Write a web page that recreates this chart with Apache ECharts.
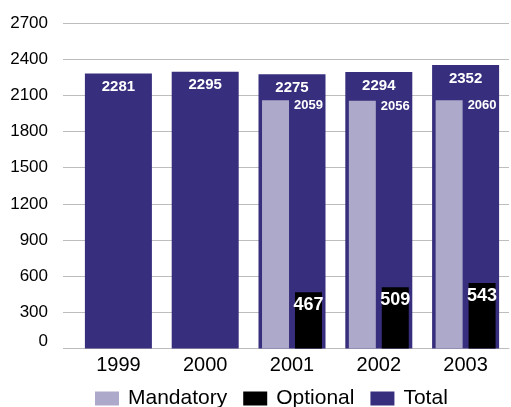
<!DOCTYPE html>
<html>
<head>
<meta charset="utf-8">
<script src="https://cdn.jsdelivr.net/npm/echarts@6/dist/echarts.min.js"></script>
<style>
  html, body { margin: 0; padding: 0; background: #fff; }
  #chart { width: 511px; height: 407px; }
</style>
</head>
<body>
<div id="chart"></div>
<script>
// Years on the horizontal axis
const categories = ['1999', '2000', '2001', '2002', '2003'];
// Series values (null where a series has no data for that year)
const totalValues = [2281, 2295, 2275, 2294, 2352];
const mandatoryValues = [null, null, 2059, 2056, 2060];
const optionalValues = [null, null, 467, 509, 543];
// Value axis range
const yMin = 0;
const yMax = 2700;
const yStep = 300;

const FONT = 'Liberation Sans, Arial, Helvetica, sans-serif';
const GRID_GRAY = '#bdbdbd';

const chart = echarts.init(document.getElementById('chart'), null, { renderer: 'canvas' });

chart.setOption({
  animation: false,
  backgroundColor: '#ffffff',
  textStyle: { fontFamily: FONT },
  grid: { left: 75, right: 2, top: 23, bottom: 58.5, containLabel: false },
  legend: {
    top: 383,
    left: 90,
    itemWidth: 24,
    itemHeight: 14,
    itemGap: 16,
    icon: 'rect',
    data: ['Mandatory', 'Optional', 'Total'],
    textStyle: { fontFamily: FONT, fontSize: 21, color: '#000', padding: [0, 0, 0, 4] }
  },
  xAxis: [
    {
      type: 'category',
      data: categories,
      axisLine: { show: true, lineStyle: { color: GRID_GRAY, width: 1 } },
      axisTick: { show: false },
      axisLabel: { fontFamily: FONT, fontSize: 20, color: '#000', margin: 7 }
    },
    {
      type: 'category',
      data: categories,
      show: false
    }
  ],
  yAxis: {
    type: 'value',
    min: yMin,
    max: yMax,
    interval: yStep,
    axisLine: { show: false },
    axisTick: { show: true, length: 12, lineStyle: { color: GRID_GRAY } },
    splitLine: { show: true, lineStyle: { color: GRID_GRAY, width: 1 } },
    axisLabel: {
      fontFamily: FONT,
      fontSize: 17,
      color: '#000',
      margin: 27,
      formatter: function (v) { return v === 0 ? '{zero|0}' : String(v); },
      rich: { zero: { fontFamily: FONT, fontSize: 17, color: '#000', padding: [0, 0, 14, 0] } }
    }
  },
  series: [
    {
      name: 'Total',
      type: 'bar',
      xAxisIndex: 0,
      barWidth: 67,
      data: totalValues,
      itemStyle: { color: '#372f7d' },
      label: {
        show: true,
        position: 'insideTop',
        distance: 6,
        color: '#fff',
        fontFamily: FONT,
        fontWeight: 'bold',
        fontSize: 15
      },
      z: 2
    },
    {
      name: 'Mandatory',
      type: 'bar',
      xAxisIndex: 1,
      barWidth: 27,
      barGap: '22%',
      data: mandatoryValues,
      itemStyle: { color: '#ada9ca' },
      label: {
        show: true,
        position: ['100%', 0],
        offset: [5, -1],
        align: 'left',
        verticalAlign: 'top',
        color: '#fff',
        fontFamily: FONT,
        fontWeight: 'bold',
        fontSize: 13
      },
      z: 3
    },
    {
      name: 'Optional',
      type: 'bar',
      xAxisIndex: 1,
      barWidth: 27,
      barGap: '22%',
      data: optionalValues,
      itemStyle: { color: '#000000' },
      label: {
        show: true,
        position: 'insideTop',
        distance: 4,
        color: '#fff',
        fontFamily: FONT,
        fontWeight: 'bold',
        fontSize: 18
      },
      z: 3
    }
  ]
});
</script>
</body>
</html>
